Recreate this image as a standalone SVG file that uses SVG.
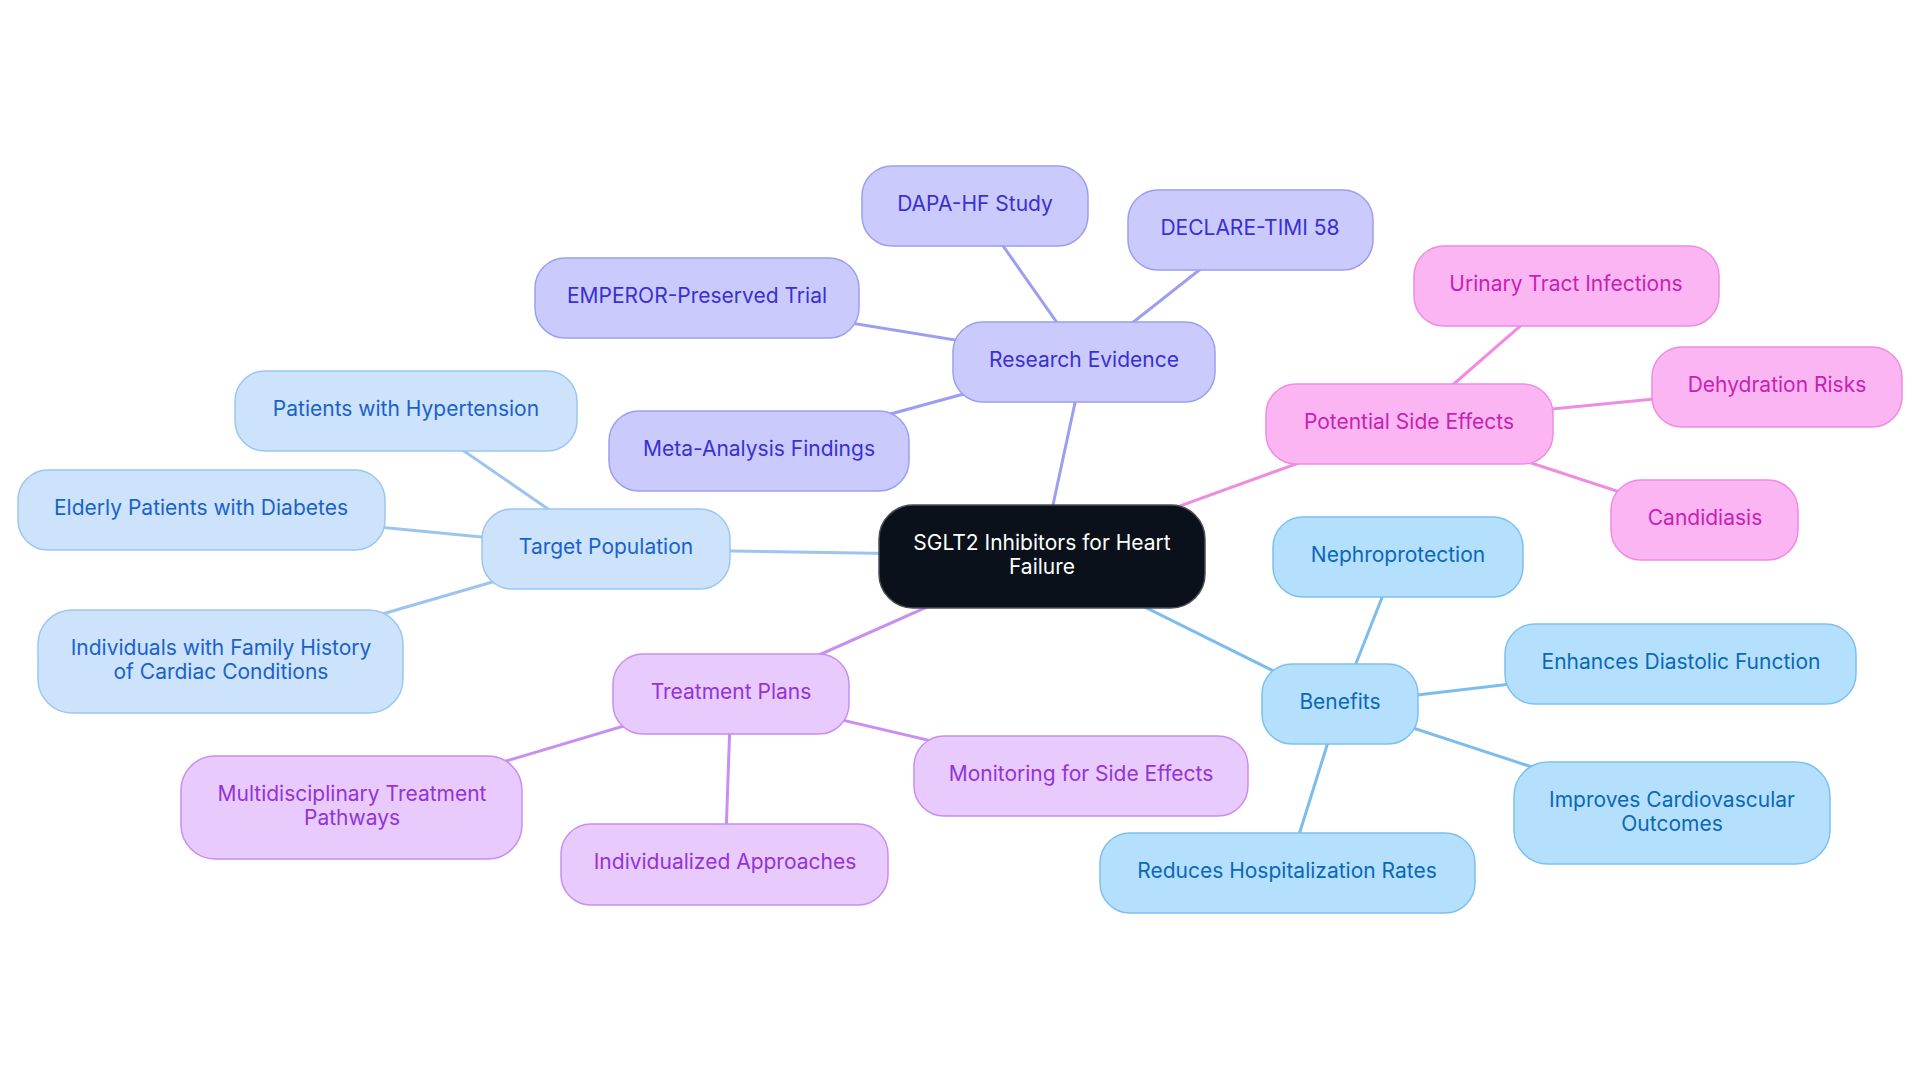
<svg xmlns="http://www.w3.org/2000/svg" width="1920" height="1083" viewBox="0 0 1920 1083">
<style>
text{font-family:Inter,"Noto Sans","Liberation Sans",sans-serif;font-size:21px;text-anchor:middle}
.c rect{fill:#0b111a;stroke:#4a4f57;stroke-width:1.5}
.c text{fill:#ffffff}
.re rect{fill:#cacbfc;stroke:#9c9ef0;stroke-width:1.5}
.re text{fill:#3a2fd2}
.se rect{fill:#fcb5f3;stroke:#f08be2;stroke-width:1.5}
.se text{fill:#c81fb2}
.tp rect{fill:#cde3fb;stroke:#9cc6f0;stroke-width:1.5}
.tp text{fill:#1a62c8}
.tr rect{fill:#e8cafc;stroke:#c98ef0;stroke-width:1.5}
.tr text{fill:#9333d8}
.be rect{fill:#b5e0fd;stroke:#7cc0f0;stroke-width:1.5}
.be text{fill:#0a68b8}
#edges line{stroke-width:3;stroke-linecap:round}
.l-re{stroke:#9c9ef0}.l-se{stroke:#f08be2}.l-tp{stroke:#9cc4ef}.l-tr{stroke:#c98ef0}.l-be{stroke:#7cbdee}
</style>
<rect width="1920" height="1083" fill="#ffffff"/>
<g id="edges">
<line class="l-re" x1="1042" y1="556" x2="1084" y2="361"/>
<line class="l-re" x1="1084" y1="361" x2="975" y2="206"/>
<line class="l-re" x1="1084" y1="361" x2="1250" y2="230"/>
<line class="l-re" x1="1084" y1="361" x2="697" y2="298"/>
<line class="l-re" x1="1084" y1="361" x2="759" y2="450"/>
<line class="l-se" x1="1042" y1="556" x2="1409" y2="423"/>
<line class="l-se" x1="1409" y1="423" x2="1566" y2="286"/>
<line class="l-se" x1="1409" y1="423" x2="1777" y2="387"/>
<line class="l-se" x1="1409" y1="423" x2="1705" y2="520"/>
<line class="l-tp" x1="1042" y1="556" x2="606" y2="549"/>
<line class="l-tp" x1="606" y1="549" x2="406" y2="411"/>
<line class="l-tp" x1="606" y1="549" x2="201" y2="510"/>
<line class="l-tp" x1="606" y1="549" x2="221" y2="661"/>
<line class="l-tr" x1="1042" y1="556" x2="731" y2="694"/>
<line class="l-tr" x1="731" y1="694" x2="352" y2="807"/>
<line class="l-tr" x1="731" y1="694" x2="725" y2="864"/>
<line class="l-tr" x1="731" y1="694" x2="1081" y2="776"/>
<line class="l-be" x1="1042" y1="556" x2="1340" y2="704"/>
<line class="l-be" x1="1340" y1="704" x2="1398" y2="557"/>
<line class="l-be" x1="1340" y1="704" x2="1681" y2="664"/>
<line class="l-be" x1="1340" y1="704" x2="1672" y2="813"/>
<line class="l-be" x1="1340" y1="704" x2="1287" y2="873"/>
</g>
<g id="central" class="c"><rect x="879" y="505" width="326" height="103" rx="34"/><text x="1042" y="550">SGLT2 Inhibitors for Heart</text><text x="1042" y="574">Failure</text></g>
<g id="research" class="re"><rect x="953" y="322" width="262" height="80" rx="30"/><text x="1084" y="361" dy="0.3em">Research Evidence</text></g>
<g id="dapa" class="re"><rect x="862" y="166" width="226" height="80" rx="30"/><text x="975" y="205" dy="0.3em">DAPA-HF Study</text></g>
<g id="declare" class="re"><rect x="1128" y="190" width="245" height="80" rx="30"/><text x="1250" y="229" dy="0.3em">DECLARE-TIMI 58</text></g>
<g id="emperor" class="re"><rect x="535" y="258" width="324" height="80" rx="30"/><text x="697" y="297" dy="0.3em">EMPEROR-Preserved Trial</text></g>
<g id="meta" class="re"><rect x="609" y="411" width="300" height="80" rx="30"/><text x="759" y="450" dy="0.3em">Meta-Analysis Findings</text></g>
<g id="sideeffects" class="se"><rect x="1266" y="384" width="287" height="80" rx="30"/><text x="1409" y="423" dy="0.3em">Potential Side Effects</text></g>
<g id="uti" class="se"><rect x="1414" y="246" width="305" height="80" rx="30"/><text x="1566" y="285" dy="0.3em">Urinary Tract Infections</text></g>
<g id="dehydration" class="se"><rect x="1652" y="347" width="250" height="80" rx="30"/><text x="1777" y="386" dy="0.3em">Dehydration Risks</text></g>
<g id="candidiasis" class="se"><rect x="1611" y="480" width="187" height="80" rx="30"/><text x="1705" y="519" dy="0.3em">Candidiasis</text></g>
<g id="target" class="tp"><rect x="482" y="509" width="248" height="80" rx="30"/><text x="606" y="548" dy="0.3em">Target Population</text></g>
<g id="hypertension" class="tp"><rect x="235" y="371" width="342" height="80" rx="30"/><text x="406" y="410" dy="0.3em">Patients with Hypertension</text></g>
<g id="elderly" class="tp"><rect x="18" y="470" width="367" height="80" rx="30"/><text x="201" y="509" dy="0.3em">Elderly Patients with Diabetes</text></g>
<g id="family" class="tp"><rect x="38" y="610" width="365" height="103" rx="34"/><text x="221" y="655">Individuals with Family History</text><text x="221" y="679">of Cardiac Conditions</text></g>
<g id="treatment" class="tr"><rect x="613" y="654" width="236" height="80" rx="30"/><text x="731" y="693" dy="0.3em">Treatment Plans</text></g>
<g id="multi" class="tr"><rect x="181" y="756" width="341" height="103" rx="34"/><text x="352" y="801">Multidisciplinary Treatment</text><text x="352" y="825">Pathways</text></g>
<g id="individual" class="tr"><rect x="561" y="824" width="327" height="81" rx="30"/><text x="725" y="863" dy="0.3em">Individualized Approaches</text></g>
<g id="monitoring" class="tr"><rect x="914" y="736" width="334" height="80" rx="30"/><text x="1081" y="775" dy="0.3em">Monitoring for Side Effects</text></g>
<g id="benefits" class="be"><rect x="1262" y="664" width="156" height="80" rx="30"/><text x="1340" y="703" dy="0.3em">Benefits</text></g>
<g id="nephro" class="be"><rect x="1273" y="517" width="250" height="80" rx="30"/><text x="1398" y="556" dy="0.3em">Nephroprotection</text></g>
<g id="diastolic" class="be"><rect x="1505" y="624" width="351" height="80" rx="30"/><text x="1681" y="663" dy="0.3em">Enhances Diastolic Function</text></g>
<g id="cardio" class="be"><rect x="1514" y="762" width="316" height="102" rx="34"/><text x="1672" y="807">Improves Cardiovascular</text><text x="1672" y="831">Outcomes</text></g>
<g id="hosp" class="be"><rect x="1100" y="833" width="375" height="80" rx="30"/><text x="1287" y="872" dy="0.3em">Reduces Hospitalization Rates</text></g>
</svg>
